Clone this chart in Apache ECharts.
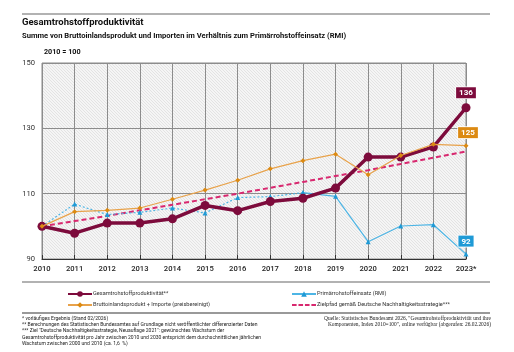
<!DOCTYPE html>
<html>
<head>
<meta charset="utf-8">
<script src="https://cdn.jsdelivr.net/npm/echarts@6/dist/echarts.min.js"></script>
<style>
html,body{margin:0;padding:0;background:#fff;}
#chart{width:514px;height:352px;}
</style>
</head>
<body>
<div id="chart"></div>
<script>
// ---- data ----
const years = ['2010','2011','2012','2013','2014','2015','2016','2017','2018','2019','2020','2021','2022','2023*'];
const productivity = [100, 97.9, 101.0, 101.0, 102.3, 106.4, 104.8, 107.6, 108.6, 111.7, 121.2, 121.2, 124.3, 136.3];
const gdpImports = [100, 104.5, 104.9, 105.6, 108.3, 111.1, 114.1, 117.6, 120.1, 122.1, 115.8, 121.7, 125.1, 124.7];
const rmi = [100, 106.8, 103.6, 104.3, 105.6, 104.1, 108.8, 109.1, 110.3, 109.2, 95.3, 100.1, 100.5, 91.5];
const targetPath = [100, 101.6, 103.2, 104.9, 106.6, 108.3, 110.0, 111.8, 113.6, 115.4, 117.2, 119.1, 121.0, 122.9];
const rmiDottedUntil = 8; // index of 2018
const seriesNames = ['Gesamtrohstoffproduktivität**', 'Bruttoinlandsprodukt + Importe (preisbereinigt)', 'Primärrohstoffeinsatz (RMI)', 'Zielpfad gemäß Deutsche Nachhaltigkeitsstrategie***'];
const yMin = 90, yMax = 150, yStep = 20;

// ---- chart ----
const chart = echarts.init(document.getElementById('chart'), null, {renderer: 'canvas'});

const pat = document.createElement('canvas');
pat.width = 3; pat.height = 3;
const pc = pat.getContext('2d');
pc.fillStyle = '#f5f5f5'; pc.fillRect(0,0,3,3);
pc.fillStyle = '#e3e3e3';
pc.fillRect(0,0,1,1); pc.fillRect(1,1,1,1); pc.fillRect(2,2,1,1);

const C_MAROON = '#7d0b3c', C_ORANGE = '#e8a24a', C_ORANGE_BOX = '#dc8a12', C_BLUE = '#4db5e5', C_BLUE_BOX = '#1f9ad6', C_PINK = '#d8286f';
const FONT = 'Roboto';

function lastLabeled(arr, boxColor, offsetX) {
  return arr.map((v, i) => {
    if (i !== arr.length - 1) return v;
    return {
      value: v,
      label: {
        show: true, position: 'top', distance: 5, offset: [offsetX || 0, 0],
        formatter: () => String(Math.round(v)),
        color: '#fff', fontFamily: FONT, fontWeight: 'bold', fontSize: 8,
        backgroundColor: boxColor, padding: [2, 3, 1, 3],
        borderColor: '#fff', borderWidth: 0.8
      }
    };
  });
}

const footLeft = [
  '* vorläufiges Ergebnis (Stand 02/2026)',
  '** Berechnungen des Statistischen Bundesamtes auf Grundlage nicht veröffentlichter differenzierter Daten',
  '*** Ziel "Deutsche Nachhaltigkeitsstrategie, Neuauflage 2021": gewünschtes Wachstum der',
  'Gesamtrohstoffproduktivität pro Jahr zwischen 2010 und 2030 entspricht dem durchschnittlichen jährlichen',
  'Wachstum zwischen 2000 und 2010 (ca. 1,6  %)'
];
const footRight = [
  'Quelle: Statistisches Bundesamt 2026, "Gesamtrohstoffproduktivität und ihre',
  'Komponenten, Index 2010=100", online verfügbar (abgerufen: 26.02.2026)'
];

const graphics = [
  {type:'line', shape:{x1:22,y1:14,x2:490,y2:14}, style:{stroke:'#999',lineWidth:1.5}},
  {type:'text', left:22, top:18, style:{text:'Gesamtrohstoffproduktivität', fontFamily:FONT, fontWeight:'bold', fontSize:9.5, fill:'#111'}},
  {type:'text', left:22, top:32, style:{text:'Summe von Bruttoinlandsprodukt und Importen im Verhältnis zum Primärrohstoffeinsatz (RMI)', fontFamily:FONT, fontWeight:'bold', fontSize:7.6, fill:'#111'}},
  {type:'text', left:44, top:49, style:{text:'2010 = 100', fontFamily:FONT, fontWeight:'bold', fontSize:7.2, fill:'#111'}},
  {type:'line', shape:{x1:22,y1:282,x2:490,y2:282}, style:{stroke:'#999',lineWidth:1.5}},
  {type:'line', shape:{x1:22,y1:313,x2:490,y2:313}, style:{stroke:'#777',lineWidth:1.5}}
];
footLeft.forEach((t, i) => graphics.push({type:'text', left:22, top:316 + i*6.3, style:{text:t, fontFamily:FONT, fontSize:5, fill:'#222'}}));
footRight.forEach((t, i) => graphics.push({type:'text', right:23, top:316 + i*6.5, style:{text:t, fontFamily:'Liberation Serif', fontSize:5.4, fill:'#222', align:'right'}}));

const dashIcon = 'path://M0,0h5v2h-5z M7,0h5v2h-5z M14,0h5v2h-5z M21,0h5v2h-5z';

const option = {
  animation: false,
  backgroundColor: '#fff',
  grid: {left:42, right:48, top:63, bottom:93, show:true, borderColor:'#8a8a8a', borderWidth:1, backgroundColor:{image:pat, repeat:'repeat'}},
  xAxis: {
    type:'category', data: years, boundaryGap:false,
    axisLine:{show:true, lineStyle:{color:'#333', width:1.2}},
    axisTick:{show:true, inside:true, length:4, lineStyle:{color:'#333'}},
    axisLabel:{color:'#222', fontFamily:FONT, fontWeight:500, fontSize:7.6, margin:6},
    splitLine:{show:true, lineStyle:{color:'#8c8c8c', width:1}}
  },
  yAxis: {
    type:'value', min:yMin, max:yMax, interval:yStep,
    axisLine:{show:false}, axisTick:{show:false},
    axisLabel:{color:'#333', fontFamily:FONT, fontSize:7.6, margin:7},
    splitLine:{show:true, lineStyle:{color:'#8c8c8c', width:1}}
  },
  legend: [
    {left:62, top:286, orient:'vertical', itemGap:5, itemWidth:24, itemHeight:7, data:[seriesNames[0], seriesNames[1]],
     textStyle:{fontFamily:FONT, fontSize:5.6, color:'#333', padding:[0,0,0,-4]}},
    {left:286, top:286, orient:'vertical', itemGap:5, itemWidth:24, itemHeight:7,
     data:[seriesNames[2], {name:seriesNames[3], icon:dashIcon, itemStyle:{color:C_PINK}}],
     textStyle:{fontFamily:FONT, fontSize:5.6, color:'#333', padding:[0,0,0,-4]}}
  ],
  graphic: graphics,
  series: [
    {name:seriesNames[3], type:'line', data:targetPath, showSymbol:false, symbol:'none', z:2,
     lineStyle:{color:C_PINK, width:2, type:[5,3]}, itemStyle:{color:C_PINK}},
    {name:'rmi_dotted', type:'line', data:rmi.map((v,i)=> i<=rmiDottedUntil ? v : null), z:3,
     symbol:'triangle', symbolSize:5, lineStyle:{color:C_BLUE, width:1.2, type:[2,2]}, itemStyle:{color:C_BLUE_BOX}},
    {name:seriesNames[2], type:'line', data:lastLabeled(rmi.map((v,i)=> i>=rmiDottedUntil ? v : null), C_BLUE_BOX, 0), z:3,
     symbol:'triangle', symbolSize:5, lineStyle:{color:C_BLUE, width:1.2}, itemStyle:{color:C_BLUE_BOX}},
    {name:seriesNames[0], type:'line', data:lastLabeled(productivity, C_MAROON, 0), z:4,
     symbol:'circle', symbolSize:9, lineStyle:{color:C_MAROON, width:3.5}, itemStyle:{color:C_MAROON}},
    {name:seriesNames[1], type:'line', data:lastLabeled(gdpImports, C_ORANGE_BOX, 2), z:5,
     symbol:'diamond', symbolSize:5, lineStyle:{color:C_ORANGE, width:1.2}, itemStyle:{color:C_ORANGE_BOX}}
  ]
};
chart.setOption(option);
</script>
</body>
</html>
